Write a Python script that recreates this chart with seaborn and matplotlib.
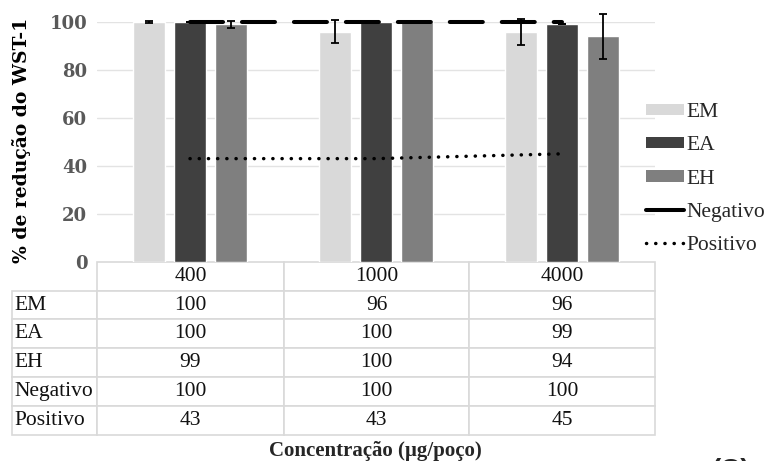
import numpy as np
import pandas as pd
import seaborn as sns
import matplotlib
matplotlib.use("Agg")
import matplotlib.pyplot as plt
from matplotlib.patches import Patch
from matplotlib.lines import Line2D

# Data: % reduction of WST-1 per concentration (µg/well)
concentrations = ["400", "1000", "4000"]
extracts = ["EM", "EA", "EH"]
em_values = [100, 96, 96]
ea_values = [100, 100, 99]
eh_values = [99, 100, 94]
em_err = [0.3, 4.9, 5.4]
ea_err = [0.0, 0.0, 0.0]
eh_err = [1.5, 0.0, 9.5]
negativo = [100, 100, 100]
positivo = [43, 43, 45]

bar_colors = ["#d9d9d9", "#404040", "#7f7f7f"]

df = pd.DataFrame({
    "conc": concentrations * 3,
    "extract": [e for e in extracts for _ in concentrations],
    "value": em_values + ea_values + eh_values,
})

sns.set_theme(style="white")
plt.rcParams["font.family"] = ["Liberation Serif", "DejaVu Serif"]

fig = plt.figure(figsize=(7.71, 4.61), dpi=100)
W, H = 771, 461
ax_l, ax_r, ax_t, ax_b = 97, 655, 22, 261.7
ax = fig.add_axes([ax_l / W, 1 - ax_b / H, (ax_r - ax_l) / W, (ax_b - ax_t) / H])

sns.barplot(data=df, x="conc", y="value", hue="extract", order=concentrations,
            hue_order=extracts, palette=bar_colors, width=0.66, gap=0.2,
            errorbar=None, legend=False, ax=ax, zorder=2)

# Error bars on each bar
for container, errs in zip(ax.containers, [em_err, ea_err, eh_err]):
    xs = [p.get_x() + p.get_width() / 2 for p in container.patches]
    ys = [p.get_height() for p in container.patches]
    eb = ax.errorbar(xs, ys, yerr=errs, fmt="none", ecolor="black",
                     elinewidth=1.3, capsize=3.2, capthick=1.3, zorder=3)
    for art in eb.lines[1] + eb.lines[2]:
        art.set_clip_on(False)

# Control lines across the concentration groups
pos = np.arange(len(concentrations))
ax.plot(pos, negativo, color="black", lw=2.9, dashes=(8.2, 4.7),
        dash_capstyle="round", zorder=4, clip_on=False)
ax.plot(pos, positivo, color="black", lw=2.5, dashes=(0.05, 2.6),
        dash_capstyle="round", zorder=4, clip_on=False)

ax.set_xlim(-0.5, 2.5)
ax.set_ylim(0, 100)
ax.set_yticks([0, 20, 40, 60, 80, 100])
ax.set_xticks([])
ax.set_xlabel("")
ax.yaxis.grid(True, color="#e3e3e3", lw=1)
ax.set_axisbelow(True)
for s in ax.spines.values():
    s.set_visible(False)
ax.tick_params(axis="y", length=0, pad=7, labelsize=13, labelcolor="#595959")
for lab in ax.get_yticklabels():
    lab.set_fontfamily("DejaVu Serif")
    lab.set_fontweight("bold")

ax.set_ylabel("% de redução do WST-1", fontsize=13.5, fontweight="bold",
              fontfamily="DejaVu Serif", color="black", va="center")
ax.yaxis.set_label_coords((22 - ax_l) / (ax_r - ax_l), (ax_b - 140) / (ax_b - ax_t))

# Data table below the plot
rows = [
    ["EM"] + [str(v) for v in em_values],
    ["EA"] + [str(v) for v in ea_values],
    ["EH"] + [str(v) for v in eh_values],
    ["Negativo"] + [str(v) for v in negativo],
    ["Positivo"] + [str(v) for v in positivo],
]
col_w = np.array([85, 187, 185, 186], dtype=float)
tab_left, tab_bottom = 12, 435
bbox = [(tab_left - ax_l) / (ax_r - ax_l), -(tab_bottom - ax_b) / (ax_b - ax_t),
        (ax_r - tab_left) / (ax_r - ax_l), (tab_bottom - ax_b) / (ax_b - ax_t)]
table = ax.table(cellText=rows, colLabels=[""] + concentrations,
                 colWidths=list(col_w / col_w.sum()), cellLoc="center", bbox=bbox)
table.auto_set_font_size(False)
table.set_fontsize(15.5)
for (r, c), cell in table.get_celld().items():
    cell.set_edgecolor("#d9d9d9")
    cell.set_linewidth(1.2)
    cell.get_text().set_fontfamily("Liberation Serif")
    cell.get_text().set_color("#111111")
    if c == 0:
        cell.get_text().set_ha("left")
        cell.PAD = 0.03
    if r == 0 and c == 0:
        cell.visible_edges = ""

# Legend on the right
handles = [Patch(facecolor=col, edgecolor="none") for col in bar_colors]
handles.append(Line2D([], [], color="black", lw=2.9, solid_capstyle="round"))
handles.append(Line2D([], [], color="black", lw=2.5, dashes=(0.05, 2.6),
                      dash_capstyle="round"))
fig.legend(handles, extracts + ["Negativo", "Positivo"], loc="center left",
           bbox_to_anchor=(646 / W, 1 - 179 / H), frameon=False,
           prop={"family": "Liberation Serif", "size": 15.5},
           handlelength=1.75, handleheight=0.45, handletextpad=0.15,
           labelspacing=0.66, borderpad=0, borderaxespad=0)

fig.text(375 / W, 5 / H, "Concentração (µg/poço)", ha="center", va="baseline",
         fontsize=15, fontweight="bold", fontfamily="Liberation Serif")
fig.text(712 / W, 3 / H, "(C)", ha="left", va="top", fontsize=20,
         fontweight="bold", fontfamily="Liberation Sans")

fig.savefig("out.png", dpi=100)
